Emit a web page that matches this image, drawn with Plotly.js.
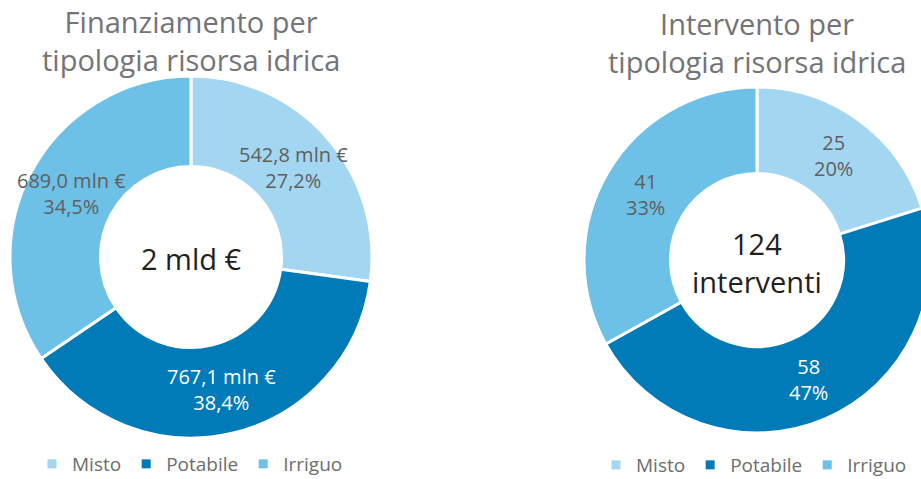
<!DOCTYPE html>
<html><head><meta charset="utf-8">
<script src="https://cdn.plot.ly/plotly-3.0.1.min.js"></script>
<style>html,body{margin:0;padding:0;overflow:hidden;background:#fff;width:921px;height:479px}#c{width:960px;height:479px}</style>
</head><body><div id="c"></div>
<script>
const categories = ["Misto", "Potabile", "Irriguo"];
const finanziamento = [542.8, 767.1, 689.0];   // mln €
const interventi = [25, 58, 41];
const colors = ["#a3d6f0", "#007bb8", "#6ec1e6"];
const textColors = ["#5f5f5f", "#ffffff", "#5f5f5f"];
const titles = ["Finanziamento per<br>tipologia risorsa idrica", "Intervento per<br>tipologia risorsa idrica"];
const centers = ["2 mld €", "124<br>interventi"];

const W = 960, H = 479;
const font = "'Open Sans', 'Noto Sans', sans-serif";
const HOLE = 0.5;
const dom1 = {x: [10/W, 372/W], y: [41/H, 403/H]};
const dom2 = {x: [584/W, 930/W], y: [46/H, 392/H]};

const fmt = (v, d) => v.toFixed(d).replace(".", ",");

function pieTrace(values, dom) {
  return {
    type: "pie", labels: categories, values: values, sort: false, direction: "clockwise", rotation: 0,
    hole: HOLE, textinfo: "none", showlegend: false,
    marker: {colors: colors, line: {color: "#ffffff", width: 3}},
    domain: dom, hoverinfo: "none"
  };
}

// slice labels placed at the middle of each slice (computed from the values and the pie domain)
function sliceLabels(values, dom, textFn) {
  const total = values.reduce((a, b) => a + b, 0);
  const cx = (dom.x[0] + dom.x[1]) / 2 * W;
  const cy = (1 - (dom.y[0] + dom.y[1]) / 2) * H;
  const R = (dom.x[1] - dom.x[0]) * W / 2;
  const rMid = R * (1 + HOLE) / 2;
  let cum = 0;
  return values.map((v, i) => {
    const th = 2 * Math.PI * (cum + v / 2) / total;
    cum += v;
    const px = cx + rMid * Math.sin(th), py = cy - rMid * Math.cos(th);
    return {text: textFn(v, v / total), x: px / W, y: 1 - py / H, xref: "paper", yref: "paper",
      showarrow: false, xanchor: "center", yanchor: "middle",
      font: {family: font, size: 20, color: textColors[i]}};
  });
}

function legendTraces(legendId) {
  return categories.map((c, i) => ({
    type: "scatter", mode: "markers", x: [null], y: [null], name: c, legend: legendId,
    marker: {symbol: "square", size: 9, color: colors[i]}, hoverinfo: "none"
  }));
}

const labels1 = sliceLabels(finanziamento, dom1, (v, p) => fmt(v, 1) + " mln €<br>" + fmt(p * 100, 1) + "%");
const labels2 = sliceLabels(interventi, dom2, (v, p) => v + "<br>" + fmt(p * 100, 0) + "%");

const legendBase = {orientation: "h", xanchor: "center", yanchor: "middle", itemwidth: 30,
  font: {family: font, size: 19, color: "#6d6d6d"}, traceorder: "normal", bgcolor: "rgba(0,0,0,0)"};

const layout = {
  width: W, height: H, margin: {l: 0, r: 0, t: 0, b: 0, autoexpand: false},
  paper_bgcolor: "#ffffff", plot_bgcolor: "rgba(0,0,0,0)",
  xaxis: {visible: false}, yaxis: {visible: false},
  showlegend: true,
  legend: Object.assign({}, legendBase, {x: 190/W, y: 15/H}),
  legend2: Object.assign({}, legendBase, {x: 754/W, y: 14/H}),
  annotations: [
    {text: titles[0], x: 191/W, y: 1 - 41/H, xref: "paper", yref: "paper", showarrow: false,
     font: {family: font, size: 29, color: "#737378"}, xanchor: "center", yanchor: "middle"},
    {text: titles[1], x: 757/W, y: 1 - 43/H, xref: "paper", yref: "paper", showarrow: false,
     font: {family: font, size: 29, color: "#737378"}, xanchor: "center", yanchor: "middle"},
    {text: centers[0], x: 191/W, y: 1 - 258/H, xref: "paper", yref: "paper", showarrow: false,
     font: {family: font, size: 29, color: "#231f20"}, xanchor: "center", yanchor: "middle"},
    {text: centers[1], x: 757/W, y: 1 - 262/H, xref: "paper", yref: "paper", showarrow: false,
     font: {family: font, size: 29, color: "#231f20"}, xanchor: "center", yanchor: "middle"}
  ].concat(labels1, labels2)
};

const data = [pieTrace(finanziamento, dom1), pieTrace(interventi, dom2)]
  .concat(legendTraces("legend"), legendTraces("legend2"));

Plotly.newPlot("c", data, layout, {displayModeBar: false, staticPlot: true});
</script></body></html>
